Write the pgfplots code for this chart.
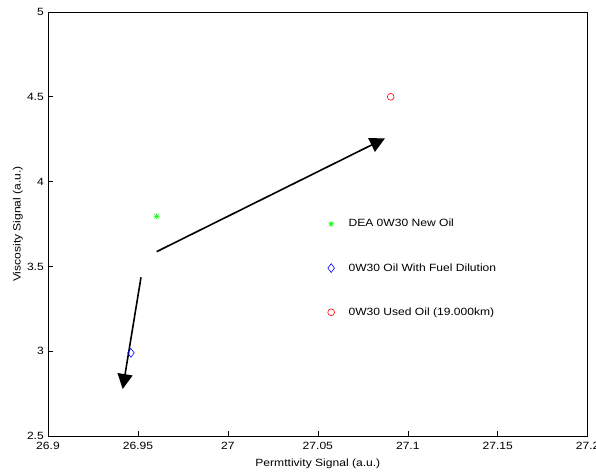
\documentclass[border=0pt]{standalone}
\usepackage{fontspec}
\setmainfont[FakeStretch=1.15]{Liberation Sans}
\usepackage{pgfplots}
\pgfplotsset{compat=1.18}
\usetikzlibrary{arrows.meta}

% MATLAB style '*' marker: plus and cross together
\pgfdeclareplotmark{mstar}{%
  \pgfpathmoveto{\pgfqpoint{-\pgfplotmarksize}{0pt}}%
  \pgfpathlineto{\pgfqpoint{\pgfplotmarksize}{0pt}}%
  \pgfpathmoveto{\pgfqpoint{0pt}{-\pgfplotmarksize}}%
  \pgfpathlineto{\pgfqpoint{0pt}{\pgfplotmarksize}}%
  \pgfpathmoveto{\pgfqpoint{-0.72\pgfplotmarksize}{-0.72\pgfplotmarksize}}%
  \pgfpathlineto{\pgfqpoint{0.72\pgfplotmarksize}{0.72\pgfplotmarksize}}%
  \pgfpathmoveto{\pgfqpoint{-0.72\pgfplotmarksize}{0.72\pgfplotmarksize}}%
  \pgfpathlineto{\pgfqpoint{0.72\pgfplotmarksize}{-0.72\pgfplotmarksize}}%
  \pgfusepathqstroke}

\begin{document}
\fontsize{10.5bp}{12bp}\selectfont
\begin{tikzpicture}
\begin{axis}[
  at={(0,0)}, anchor=south west,
  scale only axis, width=539.7bp, height=424bp,
  xmin=26.9, xmax=27.2, ymin=2.5, ymax=5,
  xtick={26.9,26.95,27,27.05,27.1,27.15,27.2},
  ytick={2.5,3,3.5,4,4.5,5},
  axis line style={line width=0.75bp},
  tick align=inside, major tick length=5bp,
  tick style={black, line width=0.6bp},
  xtick pos=bottom, ytick pos=left,
  /pgf/number format/assume math mode=true,
  /pgf/number format/fixed,
  /pgf/number format/precision=2,
  tick label style={font=\fontsize{10.5bp}{12bp}\selectfont, inner sep=0pt},
  xticklabel style={anchor=north, yshift=-6bp},
  yticklabel style={anchor=east, xshift=-4bp},
  xlabel={Permttivity Signal (a.u.)},
  ylabel={Viscosity Signal (a.u.)},
  every axis x label/.style={at={(axis description cs:0.5,0)}, anchor=center, yshift=-28bp},
  every axis y label/.style={at={(axis description cs:0,0.5)}, xshift=-30bp, rotate=90, anchor=center},
  legend style={draw=none, fill=none, at={(0.518,0.396)}, anchor=west,
    inner sep=0pt, row sep=35bp, column sep=14bp,
    nodes={inner sep=0pt, anchor=west},
    font=\fontsize{10.5bp}{12bp}\selectfont},
  legend image code/.code={\draw[#1] plot coordinates {(0bp,0bp)};},
]
\addplot[only marks, mark=mstar, mark size=3bp, color=green, line width=0.6bp]
  coordinates {(26.9604,3.795)};
\addlegendentry{DEA 0W30 New Oil}
\addplot[only marks, mark=diamond, mark size=4.4bp, color=blue, line width=0.6bp]
  coordinates {(26.9461,2.99)};
\addlegendentry{0W30 Oil With Fuel Dilution}
\addplot[only marks, mark=o, mark size=3.4bp, color=red, line width=0.6bp]
  coordinates {(27.0905,4.50)};
\addlegendentry{0W30 Used Oil (19.000km)}
% arrows
\addplot[forget plot, black, line width=1.6bp, -{Triangle[length=15bp,width=15bp]}]
  coordinates {(26.9604,3.587) (27.0873,4.255)};
\addplot[forget plot, black, line width=1.6bp, -{Triangle[length=15bp,width=15bp]}]
  coordinates {(26.9517,3.436) (26.9415,2.777)};
\end{axis}
\pgfresetboundingbox
\useasboundingbox (-48bp,-36bp) rectangle (548bp,436bp);
\end{tikzpicture}
\end{document}
